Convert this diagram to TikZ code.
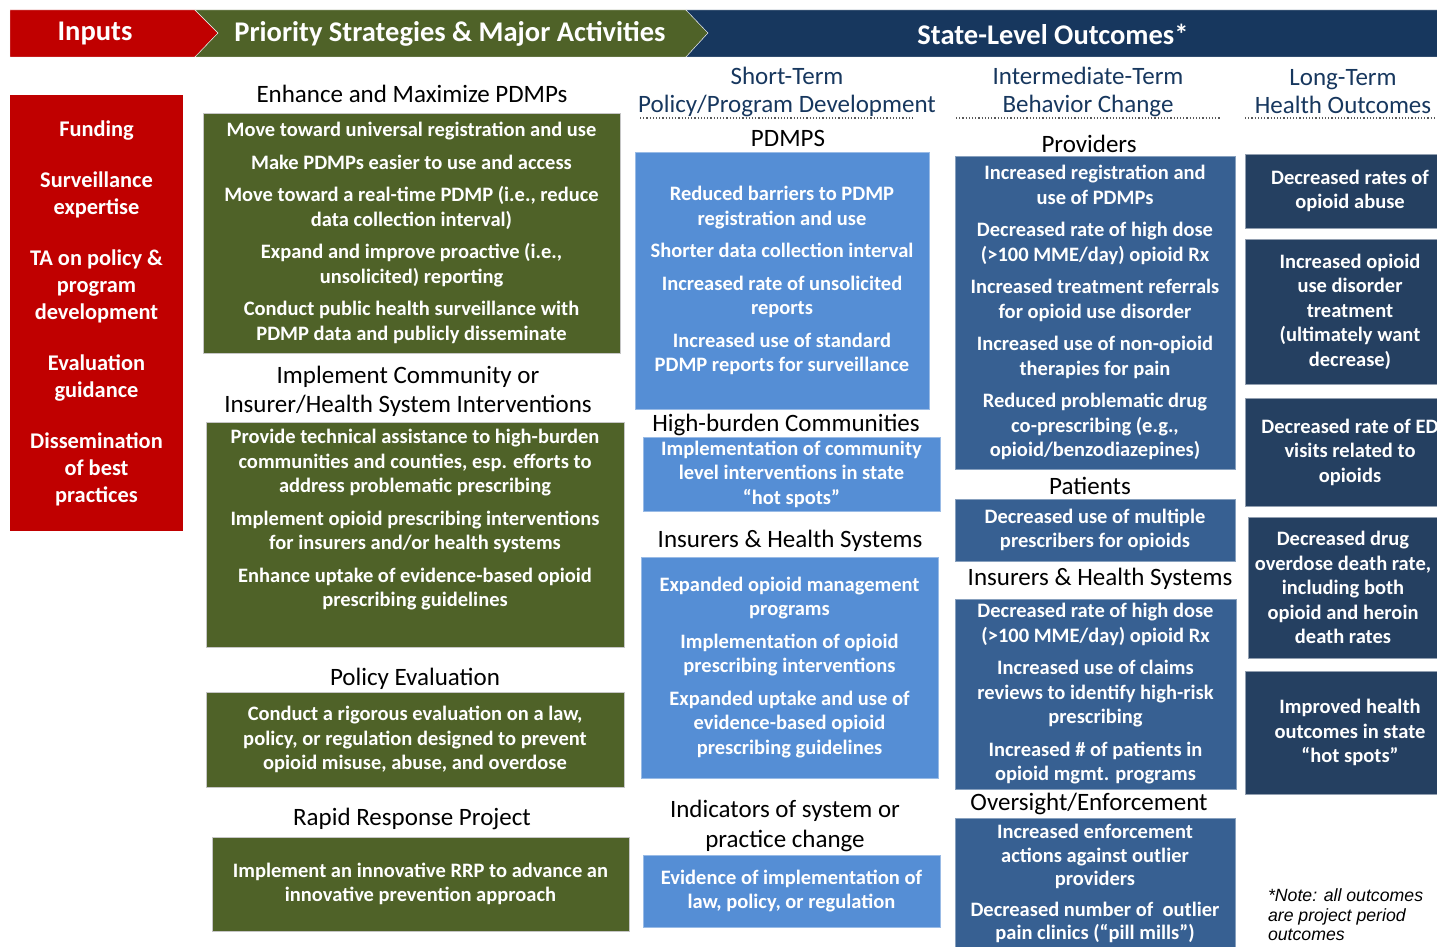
\documentclass[tikz,border=0pt]{standalone}
\usepackage{fontspec}
\setmainfont{Carlito}
\newfontfamily\notefont{Liberation Sans}
\usepackage{tikz}
\usetikzlibrary{positioning}
\definecolor{inred}{HTML}{C00000}
\definecolor{actgreen}{HTML}{4F6228}
\definecolor{hdnavy}{HTML}{17375E}
\definecolor{stblue}{HTML}{558ED5}
\definecolor{itblue}{HTML}{376092}
\definecolor{ltblue}{HTML}{254061}
\tikzset{x=1pt,y=-1pt,every node/.style={inner sep=0pt,outer sep=0pt},
  hdtxt/.style={text=white,font=\fontsize{28.5}{32}\selectfont\bfseries},
  coltitle/.style={text=hdnavy,align=center,font=\fontsize{25}{28}\selectfont},
  sectitle/.style={align=center,font=\fontsize{25}{29.5}\selectfont},
  boxtxt/.style={align=center,text=white,font=\fontsize{20.5}{24.5}\selectfont\bfseries},
  panel/.style 2 args={anchor=north west,minimum width=#1,minimum height=#2,boxtxt},
  inbox/.style={fill=inred,font=\fontsize{22.4}{27}\selectfont\bfseries},
  actbox/.style={fill=actgreen,draw=gray!45,line width=0.8pt},
  stbox/.style={fill=stblue,draw=stblue!60!white,line width=0.8pt},
  itbox/.style={fill=itblue,draw=itblue!60!white,line width=0.8pt},
  ltbox/.style={fill=ltblue,draw=ltblue!50!white,line width=0.8pt},
  underline/.style={dotted,line width=1.2pt,gray!70!black},
  notetxt/.style={anchor=north west,align=left,font=\notefont\itshape\fontsize{17.7}{19.5}\selectfont}}

\begin{document}
\begin{tikzpicture}
    \useasboundingbox (0,0) rectangle (1437,947);
    % header band
    \filldraw[fill=inred,draw=white!85!gray] (10,10) -- (195,10) -- (218,33) -- (195,57) -- (10,57) -- cycle;
    \filldraw[fill=actgreen,draw=white!85!gray] (195,10) -- (686,10) -- (708,33) -- (686,57) -- (195,57) -- (218,33) -- cycle;
    \filldraw[fill=hdnavy,draw=white!85!gray] (686,10) -- (1440,10) -- (1440,57) -- (686,57) -- (708,33) -- cycle;
    \node[hdtxt] (hdin) at (95,34) {Inputs};
    \node[hdtxt] (hdact) at (450,34) {Priority Strategies \& Major Activities};
    \node[hdtxt] (hdout) at (1053,34) {State-Level Outcomes*};

    % inputs
    \node[panel={173pt}{436pt},inbox] (inputs) at (10,95) {Funding\\[24pt]Surveillance\\expertise\\[24pt]TA on policy \&\\program\\development\\[24pt]Evaluation\\guidance\\[24pt]Dissemination\\of best\\practices};

    % activities
    \node[sectitle] (enhance) at (412,94) {Enhance and Maximize PDMPs};
    \node[panel={417pt}{240pt},actbox] (act1) at (203,113) {Move toward universal registration and use\\[8pt]Make PDMPs easier to use and access\\[8pt]Move toward a real-time PDMP (i.e., reduce\\data collection interval)\\[8pt]Expand and improve proactive (i.e.,\\unsolicited) reporting\\[8pt]Conduct public health surveillance with\\PDMP data and publicly disseminate};
    \node[sectitle] (implement) at (408,391.5) {Implement Community or\\Insurer/Health System Interventions};
    \node[panel={418pt}{225pt},actbox] (act2) at (206,422) {Provide technical assistance to high-burden\\communities and counties, esp. efforts to\\address problematic prescribing\\[8pt]Implement opioid prescribing interventions\\for insurers and/or health systems\\[8pt]Enhance uptake of evidence-based opioid\\prescribing guidelines\\[8pt]~};
    \node[sectitle] (policy) at (415,679) {Policy Evaluation};
    \node[panel={418pt}{95pt},actbox] (act3) at (206,692) {Conduct a rigorous evaluation on a law,\\policy, or regulation designed to prevent\\opioid misuse, abuse, and overdose};
    \node[sectitle] (rapid) at (412,819) {Rapid Response Project};
    \node[panel={417pt}{94pt},actbox] (act4) at (212,837) {Implement an innovative RRP to advance an\\innovative prevention approach};

    % short-term outcomes
    \node[coltitle] (short) at (787,92) {Short-Term\\Policy/Program Development};
    \draw[underline] (640,118) -- (915,118);
    \node[sectitle] (stpdmp) at (788,138) {PDMPS};
    \node[panel={294pt}{257pt},stbox] (st1) at (635,152) {Reduced barriers to PDMP\\registration and use\\[8pt]Shorter data collection interval\\[8pt]Increased rate of unsolicited\\reports\\[8pt]Increased use of standard\\PDMP reports for surveillance};
    \node[sectitle] (stcomm) at (786,425) {High-burden Communities};
    \node[panel={297pt}{74pt},stbox] (st2) at (643,437) {Implementation of community\\level interventions in state\\“hot spots”};
    \node[sectitle] (stins) at (790,541) {Insurers \& Health Systems};
    \node[panel={297pt}{221pt},stbox] (st3) at (641,557) {Expanded opioid management\\programs\\[8pt]Implementation of opioid\\prescribing interventions\\[8pt]Expanded uptake and use of\\evidence-based opioid\\prescribing guidelines};
    \node[sectitle] (stind) at (785,826) {Indicators of system or\\practice change};
    \node[panel={297pt}{72pt},stbox] (st4) at (643,855) {Evidence of implementation of\\law, policy, or regulation};

    % intermediate-term outcomes
    \node[coltitle] (inter) at (1088,91.5) {Intermediate-Term\\Behavior Change};
    \draw[underline] (956,118) -- (1220,118);
    \node[sectitle] (itprov) at (1089,144) {Providers};
    \node[panel={280pt}{313pt},itbox] (it1) at (955,156) {Increased registration and\\use of PDMPs\\[8pt]Decreased rate of high dose\\(>100 MME/day) opioid Rx\\[8pt]Increased treatment referrals\\for opioid use disorder\\[8pt]Increased use of non-opioid\\therapies for pain\\[8pt]Reduced problematic drug\\co-prescribing (e.g.,\\opioid/benzodiazepines)};
    \node[sectitle] (itpat) at (1090,486) {Patients};
    \node[panel={280pt}{62pt},itbox] (it2) at (955,499) {Decreased use of multiple\\prescribers for opioids};
    \node[sectitle] (itins) at (1100,579) {Insurers \& Health Systems};
    \node[panel={281pt}{190pt},itbox] (it3) at (955,599) {Decreased rate of high dose\\(>100 MME/day) opioid Rx\\[8pt]Increased use of claims\\reviews to identify high-risk\\prescribing\\[8pt]Increased \# of patients in\\opioid mgmt. programs};
    \node[sectitle] (itover) at (1089,804) {Oversight/Enforcement};
    \node[panel={280pt}{137pt},itbox] (it4) at (955,818) {};
    \node[boxtxt,font=\fontsize{20.5}{23.5}\selectfont\bfseries] (it4txt) at ([yshift=3pt]it4.center) {Increased enforcement\\actions against outlier\\providers\\[7pt]Decreased number of \ outlier\\pain clinics (“pill mills”)};

    % long-term outcomes
    \node[coltitle] (long) at (1343,92) {Long-Term\\Health Outcomes};
    \draw[underline] (1245,118) -- (1437,118);
    \node[panel={210pt}{74pt},ltbox] (lt1) at (1245,154) {Decreased rates of\\opioid abuse};
    \node[panel={210pt}{145pt},ltbox] (lt2) at (1245,239) {Increased opioid\\use disorder\\treatment\\(ultimately want\\decrease)};
    \node[panel={210pt}{108pt},ltbox] (lt3) at (1245,398) {Decreased rate of ED\\visits related to\\opioids};
    \node[panel={210pt}{141pt},ltbox] (lt4) at (1248,517) {};
    \node[boxtxt] (lt4txt) at ([xshift=-10pt]lt4.center) {Decreased drug\\overdose death rate,\\including both\\opioid and heroin\\death rates};
    \node[panel={210pt}{123pt},ltbox] (lt5) at (1245,671) {Improved health\\outcomes in state\\“hot spots”};
    \node[notetxt] (note) at (1268,889) {*Note: all outcomes\\are project period\\outcomes};
\end{tikzpicture}
\end{document}
